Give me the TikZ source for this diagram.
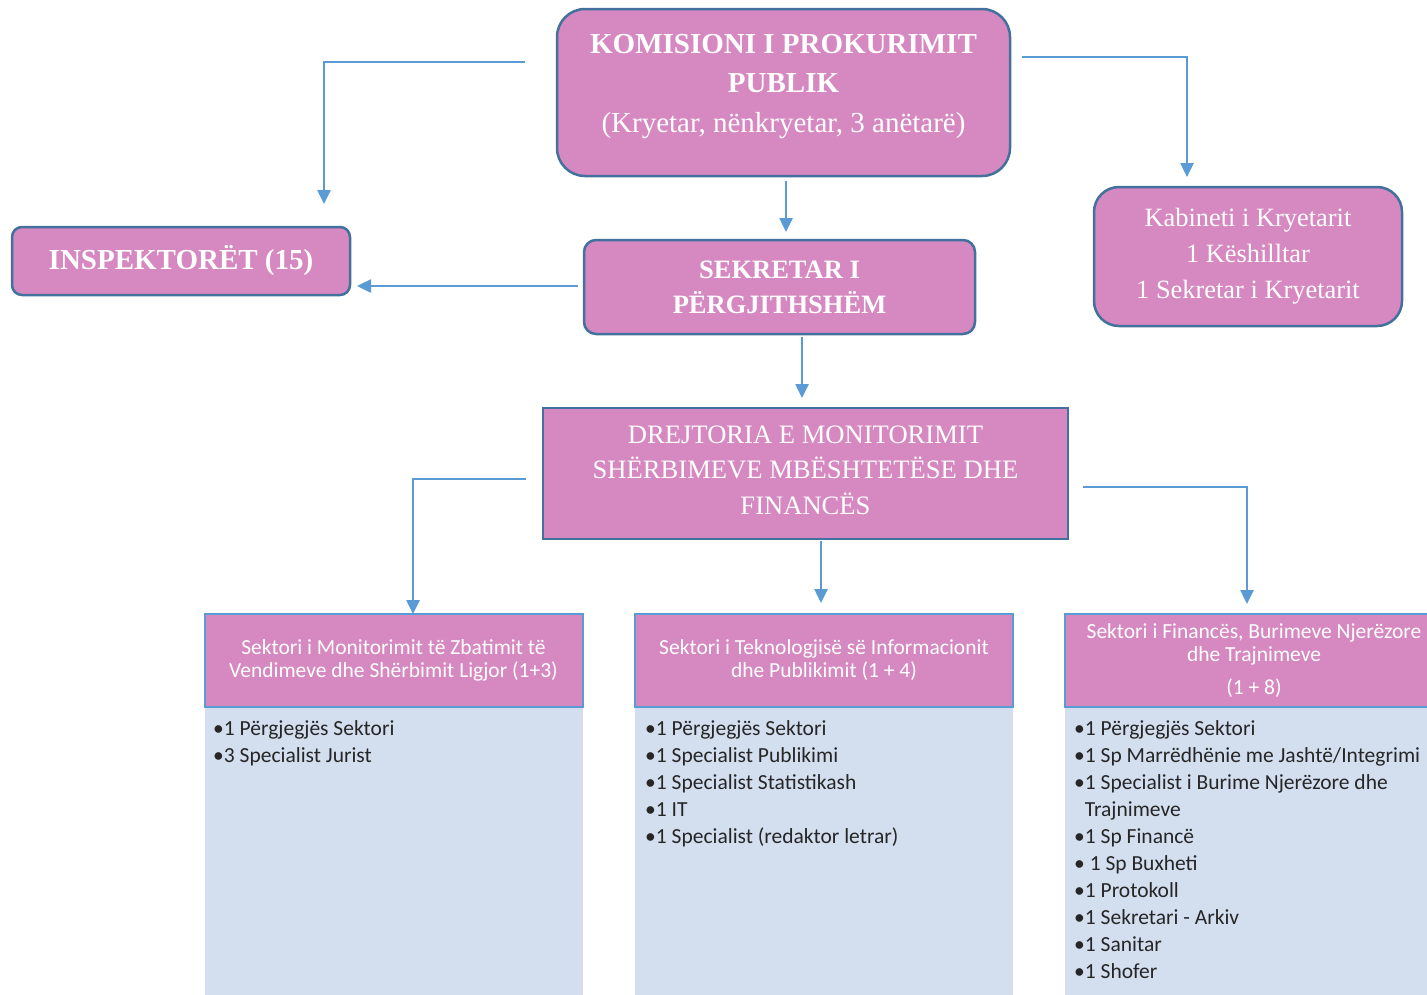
\documentclass[tikz,border=0pt]{standalone}
\usepackage{fontspec}
\setmainfont{Liberation Serif}
\newfontfamily\calibri{Carlito}
\usetikzlibrary{arrows.meta,calc}
\usetikzlibrary{positioning}
\definecolor{boxpink}{RGB}{214,136,193}
\definecolor{edgeblue}{RGB}{65,113,156}
\definecolor{linkblue}{RGB}{91,155,213}
\definecolor{listblue}{RGB}{211,222,239}

\begin{document}
\begin{tikzpicture}[x=1pt,y=-1pt,
  pinkbox/.style={draw=edgeblue,line width=2.5pt,fill=boxpink,text=white,align=center,inner sep=0pt},
  headbox/.style={draw=linkblue,line width=2pt,fill=boxpink,text=white,align=center,inner sep=0pt,
    minimum width=378pt,minimum height=93pt,font=\calibri\fontsize{21.5}{23}\selectfont},
  listbox/.style={fill=listblue,minimum width=378pt,minimum height=293pt,inner sep=0pt},
  listtext/.style={align=left,inner sep=0pt,anchor=north west,text=black!85,
    font=\calibri\fontsize{21.5}{27}\selectfont},
  link/.style={draw=linkblue,line width=2.5pt,-{Triangle[length=14pt,width=13pt]}}]
\useasboundingbox (0,0) rectangle (1427,994);

% upper level
\draw (783.5,92.5) node[pinkbox,rounded corners=28pt,minimum width=453pt,minimum height=167pt] (kpp) {};
\draw (783.5,86.5) node[text=white,align=center,font=\fontsize{29}{39.5}\selectfont] (kpptext)
  {\textbf{KOMISIONI I PROKURIMIT}\\ \textbf{PUBLIK}\\ (Kryetar, nënkryetar, 3 anëtarë)};
\draw (181,261) node[pinkbox,rounded corners=10pt,minimum width=338pt,minimum height=68pt,
  font=\bfseries\fontsize{29}{35}\selectfont] (insp) {INSPEKTORËT (15)};
\draw (779.5,287) node[pinkbox,rounded corners=12pt,minimum width=391pt,minimum height=94pt,
  font=\bfseries\fontsize{26.5}{35}\selectfont] (sek) {SEKRETAR I\\PËRGJITHSHËM};
\draw (1248,256.5) node[pinkbox,rounded corners=25pt,minimum width=308pt,minimum height=139pt,
  font=\fontsize{26.4}{36}\selectfont] (kab) {Kabineti i Kryetarit\\1 Këshilltar\\1 Sekretar i Kryetarit};
\draw (805.5,473.5) node[pinkbox,minimum width=525pt,minimum height=131pt] (drej) {};
\draw (805.5,470) node[text=white,align=center,font=\fontsize{26.6}{35.5}\selectfont] (drejtext)
  {DREJTORIA E MONITORIMIT\\SHËRBIMEVE MBËSHTETËSE DHE\\FINANCËS};

% sectors
\draw (393.5,853.5) node[listbox] (list1) {};
\draw (824,853.5) node[listbox] (list2) {};
\draw (1254,853.5) node[listbox] (list3) {};
\draw (393.5,660.5) node[headbox] (sek1) {Sektori i Monitorimit të Zbatimit të\\Vendimeve dhe Shërbimit Ligjor (1+3)};
\draw (824,660.5) node[headbox] (sek2) {Sektori i Teknologjisë së Informacionit\\dhe Publikimit (1 + 4)};
\draw (1254,660.5) node[headbox] (sek3) {Sektori i Financës, Burimeve Njerëzore\\dhe Trajnimeve\\[10pt](1 + 8)};

\draw (213,720) node[listtext] (items1) {•1 Përgjegjës Sektori\\•3 Specialist Jurist};
\draw (645,720) node[listtext] (items2) {•1 Përgjegjës Sektori\\•1 Specialist Publikimi\\
  •1 Specialist Statistikash\\•1 IT\\•1 Specialist (redaktor letrar)};
\draw (1074,720) node[listtext] (items3) {•1 Përgjegjës Sektori\\•1 Sp Marrëdhënie me Jashtë/Integrimi\\
  •1 Specialist i Burime Njerëzore dhe\\\phantom{•}Trajnimeve\\•1 Sp Financë\\• 1 Sp Buxheti\\
  •1 Protokoll\\•1 Sekretari - Arkiv\\•1 Sanitar\\•1 Shofer};

% connectors
\coordinate (kppL) at (525,62);
\coordinate (inspT) at (324,204);
\coordinate (kppR) at (1022,57);
\coordinate (kabT) at (1187,177);
\coordinate (kppB) at (786,181);
\coordinate (sekT) at (786,232);
\coordinate (sekL) at (578,286);
\coordinate (inspR) at (357,286);
\coordinate (sekB) at (802,337);
\coordinate (drejT) at (802,398);
\coordinate (drejL) at (526,479);
\coordinate (sek1T) at (413,614);
\coordinate (drejB) at (821,541);
\coordinate (sek2T) at (821,603);
\coordinate (drejR) at (1083,487);
\coordinate (sek3T) at (1247,604);
\draw [link] (kppL) -| (inspT);
\draw [link] (kppR) -| (kabT);
\draw [link] (kppB) -- (sekT);
\draw [link] (sekL) -- (inspR);
\draw [link] (sekB) -- (drejT);
\draw [link] (drejL) -| (sek1T);
\draw [link] (drejB) -- (sek2T);
\draw [link] (drejR) -| (sek3T);
\end{tikzpicture}
\end{document}
